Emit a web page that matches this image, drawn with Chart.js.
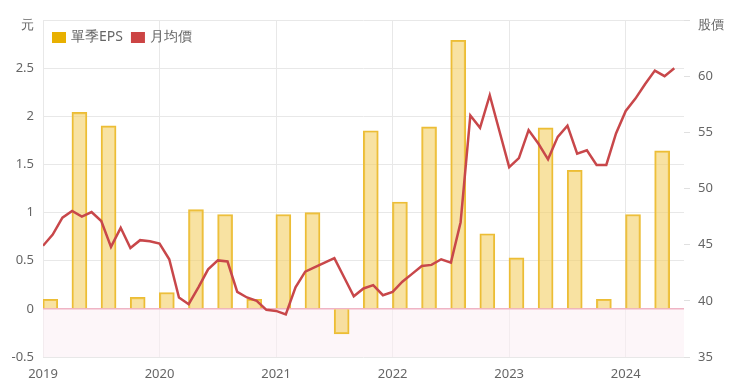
<!DOCTYPE html>
<html>
<head>
<meta charset="utf-8">
<script src="https://cdn.jsdelivr.net/npm/chart.js@4.4.1/dist/chart.umd.min.js"></script>
<style>
  html, body { margin: 0; padding: 0; background: #fff; }
  #wrap { width: 740px; height: 388px; }
</style>
</head>
<body>
<div id="wrap"><canvas id="chart" width="740" height="388"></canvas></div>
<script>
// quarterly EPS, 2019Q1 .. 2024Q2
var quarters = ['2019Q1','2019Q2','2019Q3','2019Q4','2020Q1','2020Q2','2020Q3','2020Q4',
                '2021Q1','2021Q2','2021Q3','2021Q4','2022Q1','2022Q2','2022Q3','2022Q4',
                '2023Q1','2023Q2','2023Q3','2023Q4','2024Q1','2024Q2'];
var eps = [0.10, 2.04, 1.90, 0.12, 0.17, 1.03, 0.98, 0.10,
           0.98, 1.00, -0.26, 1.85, 1.11, 1.89, 2.79, 0.78,
           0.53, 1.88, 1.44, 0.10, 0.98, 1.64];

// monthly average price, 2019-01 .. 2024-06
var firstYear = 2019;
var monthlyPrice = [
  44.9, 45.9, 47.4, 48.0, 47.5, 47.9, 47.1, 44.8, 46.5, 44.7, 45.4, 45.3,
  45.1, 43.7, 40.3, 39.7, 41.2, 42.8, 43.6, 43.5, 40.8, 40.3, 40.0, 39.2,
  39.1, 38.8, 41.2, 42.6, 43.0, 43.4, 43.8, 42.1, 40.4, 41.1, 41.4, 40.5,
  40.8, 41.7, 42.4, 43.1, 43.2, 43.7, 43.4, 47.0, 56.5, 55.4, 58.3, 55.1,
  51.9, 52.7, 55.2, 54.0, 52.6, 54.6, 55.6, 53.1, 53.4, 52.1, 52.1, 54.9,
  56.9, 58.0, 59.3, 60.5, 60.0, 60.7
];

var yearTicks = [2019, 2020, 2021, 2022, 2023, 2024];
var epsLabel = '單季EPS';
var priceLabel = '月均價';
var leftUnit = '元';
var rightUnit = '股價';

var epsPoints = [];
for (var i = 0; i < quarters.length; i++) {
  var y = parseInt(quarters[i].slice(0, 4), 10);
  var q = parseInt(quarters[i].slice(5), 10);
  // bar sits in the first half of its quarter
  epsPoints.push({x: y + (q - 1) * 0.25 + 0.0625, y: eps[i]});
}
var pricePoints = [];
for (var m = 0; m < monthlyPrice.length; m++) {
  pricePoints.push({x: firstYear + m / 12, y: monthlyPrice[m]});
}

var textColor = '#666';
var gridColor = '#e8e8e8';
var fontFamily = 'Noto Sans';

// pink band below zero + zero line
var negativeZone = {
  id: 'negativeZone',
  beforeDatasetsDraw: function(chart) {
    var ctx = chart.ctx, area = chart.chartArea;
    var y0 = chart.scales.y.getPixelForValue(0);
    ctx.save();
    ctx.fillStyle = 'rgba(252, 238, 244, 0.55)';
    ctx.fillRect(area.left, y0, area.right - area.left, area.bottom - y0);
    ctx.strokeStyle = '#f0b4c4';
    ctx.lineWidth = 1.5;
    ctx.beginPath();
    ctx.moveTo(area.left, y0);
    ctx.lineTo(area.right, y0);
    ctx.stroke();
    ctx.restore();
  }
};

// legend inside the plot, plus the unit labels on top of both axes
var topLabels = {
  id: 'topLabels',
  afterDraw: function(chart) {
    var ctx = chart.ctx, area = chart.chartArea;
    ctx.save();
    ctx.textBaseline = 'middle';
    ctx.font = '14px "' + fontFamily + '"';
    var ly = area.top + 17;
    var lx = area.left + 9;
    var items = [[epsLabel, '#e8b000'], [priceLabel, '#cc4444']];
    for (var k = 0; k < items.length; k++) {
      ctx.fillStyle = items[k][1];
      ctx.fillRect(lx, ly - 5, 14, 11);
      ctx.fillStyle = textColor;
      ctx.textAlign = 'left';
      ctx.fillText(items[k][0], lx + 19, ly);
      lx += 19 + ctx.measureText(items[k][0]).width + 8;
    }
    ctx.font = '13px "' + fontFamily + '"';
    ctx.textAlign = 'right';
    ctx.fillText(leftUnit, chart.scales.y.right - 9, area.top + 5);
    ctx.textAlign = 'left';
    ctx.fillText(rightUnit, chart.scales.y1.left + 14, area.top + 5);
    ctx.restore();
  }
};

new Chart(document.getElementById('chart'), {
  data: {
    datasets: [{
      type: 'line',
      label: priceLabel,
      data: pricePoints,
      yAxisID: 'y1',
      borderColor: '#c8474a',
      borderWidth: 2.5,
      pointRadius: 0,
      tension: 0,
      fill: false
    }, {
      type: 'bar',
      label: epsLabel,
      data: epsPoints,
      yAxisID: 'y',
      backgroundColor: 'rgba(243, 207, 100, 0.6)',
      borderColor: '#ecbd35',
      borderWidth: 1.5,
      barThickness: 15
    }]
  },
  options: {
    responsive: false,
    animation: false,
    layout: { padding: { top: 20, right: 0, left: 0, bottom: 0 } },
    plugins: {
      tooltip: { enabled: false },
      legend: { display: false }
    },
    scales: {
      x: {
        type: 'linear',
        min: 2019,
        max: 2024.5,
        offset: false,
        border: { display: false },
        grid: { color: gridColor, drawTicks: false, offset: false },
        afterFit: function(s) { s.height = 31; },
        afterBuildTicks: function(s) {
          s.ticks = yearTicks.map(function(v) { return {value: v}; });
        },
        ticks: {
          color: textColor,
          padding: 9,
          maxRotation: 0,
          font: { family: fontFamily, size: 13 },
          callback: function(v) { return String(v); }
        }
      },
      y: {
        position: 'left',
        min: -0.5,
        max: 3,
        border: { display: false },
        grid: { color: gridColor, drawTicks: false },
        afterFit: function(s) { s.width = 43; },
        ticks: {
          stepSize: 0.5,
          color: textColor,
          padding: 9,
          font: { family: fontFamily, size: 13 },
          callback: function(v) { return v === 3 ? '' : String(v); }
        }
      },
      y1: {
        position: 'right',
        min: 35,
        max: 65,
        border: { display: false },
        grid: { drawOnChartArea: false, color: '#e0e0e0', tickLength: 6 },
        afterFit: function(s) { s.width = 56; },
        ticks: {
          stepSize: 5,
          color: textColor,
          padding: 8,
          font: { family: fontFamily, size: 13 },
          callback: function(v) { return v === 65 ? '' : String(v); }
        }
      }
    }
  },
  plugins: [negativeZone, topLabels]
});
</script>
</body>
</html>
